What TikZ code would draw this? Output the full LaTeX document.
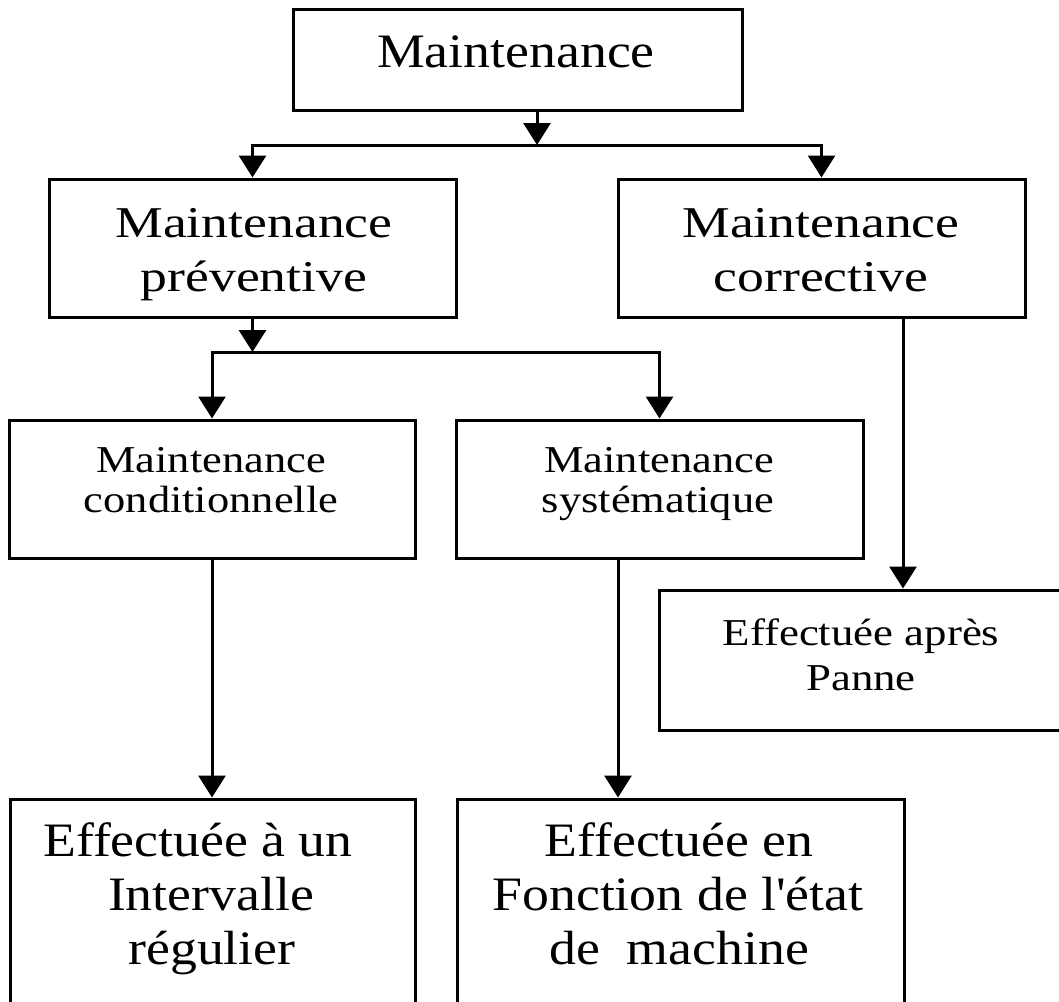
\documentclass[tikz,border=0pt]{standalone}
\usepackage{graphicx}
\usepackage{fontspec}
\setmainfont{Liberation Serif}[Ligatures=ResetAll]
\usetikzlibrary{arrows.meta}

% font sizes for the three levels of labels
\newcommand\fbig{\fontsize{48}{58}\selectfont}
\newcommand\fmid{\fontsize{44}{54}\selectfont}
\newcommand\fsmall{\fontsize{38}{46}\selectfont}
% horizontal stretch of a label
\newcommand\sx[2]{\scalebox{#1}[1]{#2}}
% straight apostrophe glyph
\newcommand\apos{\XeTeXglyph\XeTeXglyphindex "quotesingle" \relax}

\tikzset{
  box/.style={draw, line width=3pt, rectangle, inner sep=0pt},
  arr/.style={line width=3pt, -{Triangle[length=22pt,width=27pt]}},
  lbl/.style={anchor=base, inner sep=0pt, outer sep=0pt},
}

\begin{document}
\begin{tikzpicture}[x=1pt,y=-1pt]
\useasboundingbox (0,0) rectangle (1059,1001);
\fill[white] (0,0) rectangle (1059,1001);
\clip (0,0) rectangle (1059,1001);

% boxes
\node[box, minimum width=449pt, minimum height=101pt] (top)  at (517.5,59.5) {};
\node[box, minimum width=407pt, minimum height=138pt] (prev) at (252.5,248) {};
\node[box, minimum width=407pt, minimum height=138pt] (corr) at (821.5,248) {};
\node[box, minimum width=406pt, minimum height=138pt] (cond) at (212,489) {};
\node[box, minimum width=407pt, minimum height=138pt] (syst) at (659.5,489) {};
\node[box, minimum width=407pt, minimum height=140pt] (panne) at (862.5,660) {};
\node[box, minimum width=405pt, minimum height=260pt] (bl) at (212.5,929) {};
\node[box, minimum width=447pt, minimum height=260pt] (br) at (680.5,929) {};

% labels
\node[lbl] (t0) at (516,67) {\fbig\sx{1.12}{Maintenance}};

\node[lbl] (p1) at (254,237) {\fmid\sx{1.22}{Maintenance}};
\node[lbl] (p2) at (254,291) {\fmid\sx{1.22}{préventive}};

\node[lbl] (c1) at (821,237) {\fmid\sx{1.22}{Maintenance}};
\node[lbl] (c2) at (821,291) {\fmid\sx{1.22}{corrective}};

\node[lbl] (d1) at (211,472) {\fsmall\sx{1.17}{Maintenance}};
\node[lbl] (d2) at (211,512) {\fsmall\sx{1.17}{conditionnelle}};

\node[lbl] (s1) at (659,472) {\fsmall\sx{1.17}{Maintenance}};
\node[lbl] (s2) at (658,512) {\fsmall\sx{1.17}{systématique}};

\node[lbl] (a1) at (861,645) {\fsmall\sx{1.18}{Effectuée après}};
\node[lbl] (a2) at (861,690) {\fsmall\sx{1.18}{Panne}};

\node[lbl] (l1) at (198,856) {\fbig\sx{1.12}{Effectuée à un}};
\node[lbl] (l2) at (211,910) {\fbig\sx{1.12}{Intervalle}};
\node[lbl] (l3) at (212,964) {\fbig\sx{1.12}{régulier}};

\node[lbl] (r1) at (679,856) {\fbig\sx{1.12}{Effectuée en}};
\node[lbl] (r2) at (678,910) {\fbig\sx{1.12}{Fonction de l\apos état}};
\node[lbl] (r3) at (679,964) {\fbig\sx{1.12}{de\ \ machine}};

% junction points of the connectors
\coordinate (j1) at (537,145);
\coordinate (j2) at (252.5,352);
\coordinate (k1) at (903,0);
\coordinate (k2) at (618,0);

% connectors
\draw[arr] (top.south -| j1) -- (j1);
\draw[arr] (j1) -| (prev.north);
\draw[arr] (j1) -| (corr.north);

\draw[arr] (prev.south) -- (j2);
\draw[arr] (j2) -| (cond.north);
\draw[arr] (j2) -| (syst.north);

\draw[arr] (corr.south -| k1) -- (panne.north -| k1);
\draw[arr] (cond.south) -- (cond.south |- bl.north);
\draw[arr] (syst.south -| k2) -- (br.north -| k2);
\end{tikzpicture}
\end{document}
